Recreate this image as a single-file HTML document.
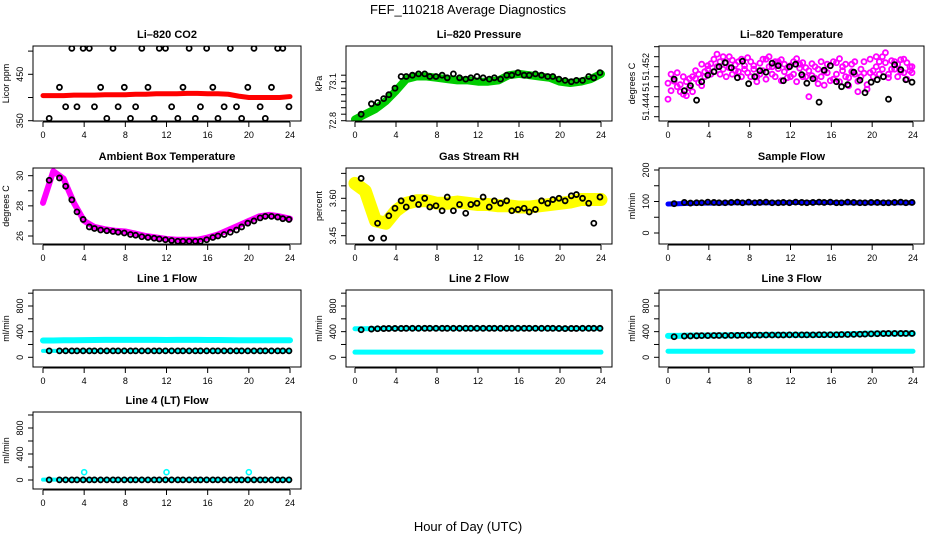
<!DOCTYPE html>
<html><head><meta charset="utf-8"><title>FEF_110218 Average Diagnostics</title>
<style>
html,body{margin:0;padding:0;background:#fff;}
svg{display:block;font-family:"Liberation Sans",sans-serif;}
</style></head>
<body>
<svg id="chart" width="936" height="540" viewBox="0 0 936 540" xmlns="http://www.w3.org/2000/svg">
<text x="468" y="14" text-anchor="middle" font-size="13">FEF_110218  Average Diagnostics</text>
<text x="468" y="531" text-anchor="middle" font-size="13">Hour of Day (UTC)</text>
</svg>
<script>
// ---- data ----
const hourTicks = [0,4,8,12,16,20,24];
const bandHours = [0,1,2,3,4,5,6,7,8,9,10,11,12,13,14,15,16,17,18,19,20,21,22,23,24];
const ptHours = [0.6,1.6,2.2,2.8,3.3,3.9,4.5,5.0,5.6,6.2,6.8,7.3,7.9,8.5,9.0,9.6,10.2,10.8,11.3,11.9,12.5,13.1,13.6,14.2,14.8,15.3,15.9,16.5,17.0,17.6,18.2,18.8,19.3,19.9,20.5,21.1,21.6,22.2,22.8,23.3,23.9];
// CO2
const co2Band = [404,404,404,405,405,405,406,406,406,407,407,408,408,408,409,409,408,408,407,403,400,400,400,400,402];
const co2Pts = [355,422,380,506,380,506,506,380,422,355,506,380,422,355,380,506,422,355,506,506,380,355,422,506,355,380,506,422,355,380,506,380,355,422,506,380,355,422,506,506,380];
// Pressure
const presBand = [72.81,72.85,72.89,72.95,73.03,73.12,73.14,73.14,73.13,73.12,73.11,73.11,73.10,73.10,73.11,73.15,73.16,73.15,73.14,73.13,73.10,73.09,73.10,73.12,73.16];
const presPts = [72.85,72.93,72.94,72.97,73.0,73.05,73.14,73.14,73.15,73.16,73.16,73.14,73.14,73.15,73.13,73.16,73.13,73.12,73.13,73.14,73.13,73.12,73.13,73.12,73.15,73.15,73.17,73.15,73.15,73.16,73.15,73.14,73.14,73.12,73.11,73.10,73.11,73.11,73.14,73.13,73.17];
// Li-820 temperature
const tempHours = [0.0,0.3,0.6,0.9,1.2,1.5,1.8,2.1,2.4,2.7,3.0,3.3,3.6,3.9,4.2,4.5,4.8,5.1,5.4,5.7,6.0,6.3,6.6,6.9,7.2,7.5,7.8,8.1,8.4,8.7,9.0,9.3,9.6,9.9,10.2,10.5,10.8,11.1,11.4,11.7,12.0,12.3,12.6,12.9,13.2,13.5,13.8,14.1,14.4,14.7,15.0,15.3,15.6,15.9,16.2,16.5,16.8,17.1,17.4,17.7,18.0,18.3,18.6,18.9,19.2,19.5,19.8,20.1,20.4,20.7,21.0,21.3,21.6,21.9,22.2,22.5,22.8,23.1,23.4,23.7,23.9];
const tempA = [51.4487,51.4472,51.4491,51.4480,51.4484,51.4465,51.4490,51.4478,51.4500,51.4496,51.4505,51.4482,51.4510,51.4515,51.4526,51.4535,51.4520,51.4530,51.4540,51.4528,51.4518,51.4533,51.4524,51.4510,51.4535,51.4522,51.4508,51.4530,51.4515,51.4500,51.4527,51.4512,51.4535,51.4520,51.4505,51.4530,51.4516,51.4534,51.4510,51.4498,51.4522,51.4505,51.4536,51.4517,51.4528,51.4500,51.4512,51.4526,51.4497,51.4515,51.4530,51.4483,51.4508,51.4522,51.4495,51.4528,51.4536,51.4512,51.4525,51.4498,51.4510,51.4530,51.4491,51.4515,51.4507,51.4484,51.4535,51.4512,51.4520,51.4530,51.4540,51.4528,51.4505,51.4532,51.4515,51.4525,51.4534,51.4508,51.4528,51.4512,51.4520];
const tempB = [51.4455,51.4505,51.4495,51.4508,51.4470,51.4500,51.4462,51.4496,51.4470,51.4512,51.4488,51.4525,51.4500,51.4522,51.4505,51.4510,51.4545,51.4505,51.4515,51.4500,51.4540,51.4505,51.4512,51.4530,51.4500,51.4515,51.4538,51.4500,51.4522,51.4490,51.4505,51.4535,51.4495,51.4540,51.4520,51.4500,51.4530,51.4492,51.4525,51.4518,51.4500,51.4530,51.4490,51.4525,51.4500,51.4518,51.4460,51.4502,51.4520,51.4486,51.4500,51.4510,51.4525,51.4492,51.4530,51.4505,51.4490,51.4520,51.4500,51.4482,51.4525,51.4505,51.4470,51.4500,51.4530,51.4475,51.4508,51.4500,51.4540,51.4505,51.4515,51.4548,51.4498,51.4515,51.4530,51.4500,51.4510,51.4535,51.4495,51.4520,51.4508];
const tempPts = [51.4495,51.4472,51.4482,51.4453,51.4490,51.4503,51.4510,51.4520,51.4528,51.4518,51.4498,51.4531,51.4486,51.4500,51.4512,51.4509,51.4527,51.4522,51.4492,51.4520,51.4525,51.4504,51.4487,51.4496,51.4449,51.4513,51.4522,51.4490,51.4480,51.4484,51.4509,51.4493,51.4468,51.4489,51.4494,51.4500,51.4455,51.4524,51.4514,51.4494,51.4489];
// Ambient box temperature
const ambBand = [28.2,30.3,29.8,28.2,27.0,26.6,26.45,26.35,26.3,26.15,26.0,25.9,25.8,25.75,25.75,25.75,25.9,26.1,26.4,26.7,27.0,27.3,27.4,27.3,27.15];
const ambPts = [29.7,29.85,29.3,28.4,27.6,27.1,26.6,26.5,26.4,26.35,26.3,26.25,26.2,26.1,26.05,25.95,25.9,25.85,25.8,25.75,25.7,25.65,25.65,25.65,25.65,25.65,25.75,25.9,26.0,26.1,26.25,26.4,26.6,26.85,27.0,27.2,27.3,27.3,27.25,27.15,27.1];
// Gas stream RH
const rhBand = [3.66,3.63,3.51,3.50,3.55,3.58,3.59,3.59,3.58,3.58,3.585,3.58,3.575,3.575,3.57,3.57,3.565,3.565,3.57,3.575,3.58,3.585,3.595,3.595,3.595];
const rhPts = [3.68,3.44,3.50,3.44,3.53,3.56,3.59,3.565,3.60,3.575,3.60,3.565,3.57,3.55,3.605,3.55,3.575,3.54,3.575,3.58,3.605,3.565,3.59,3.58,3.59,3.55,3.555,3.56,3.545,3.555,3.59,3.58,3.595,3.60,3.59,3.61,3.615,3.60,3.58,3.50,3.605];
// Sample flow
const sampBand = [92,93,94,95,95,95,96,96,96,96,96,96,97,97,97,97,97,96,96,96,96,96,96,96,96];
const sampPts = [93,97,95,96,96,98,97,96,96,97,98,96,98,96,97,98,96,96,97,96,98,97,96,97,98,97,98,96,96,98,97,96,96,97,97,96,96,97,98,96,97];
// Line flows
const l1Band = [262,262,265,265,268,270,272,272,272,272,272,272,270,272,272,272,270,270,268,266,265,265,265,265,265];
const l1Pts = [100,100,100,100,100,100,100,100,100,100,100,100,100,100,100,100,100,100,100,100,100,100,100,100,100,100,100,100,100,100,100,100,100,100,100,100,100,100,100,100,100];
const l1Low = [100,100,100,100,100,100,100,100,100,100,100,100,100,100,100,100,100,100,100,100,100,100,100,100,100];
const l2Band = [445,445,448,450,450,452,452,452,452,452,452,452,452,452,452,452,452,452,452,452,450,450,452,452,452];
const l2Pts = [430,440,445,448,450,450,450,452,452,452,452,452,452,452,452,452,452,452,452,452,452,452,452,452,452,452,452,452,452,452,452,452,452,450,448,450,450,452,452,452,452];
const l2Low = [80,80,80,80,80,80,80,80,80,80,80,80,80,80,80,80,80,80,80,80,80,80,80,80,80];
const l3Band = [335,335,338,340,340,342,342,345,345,348,350,350,350,350,350,350,352,355,360,365,370,372,372,372,372];
const l3Pts = [320,330,332,335,338,338,340,340,340,342,342,344,345,346,346,348,348,348,348,350,350,350,350,350,352,352,352,352,355,356,358,360,362,365,368,370,372,372,372,372,372];
const l3Low = [95,95,95,95,95,95,95,95,95,95,95,95,95,95,95,95,95,95,95,95,95,95,95,95,95];
const l4Band = [5,5,5,5,5,5,5,5,5,5,5,5,5,5,5,5,5,5,5,5,5,5,5,5,5];
const l4Pts = [2,2,2,2,2,2,2,2,2,2,2,2,2,2,2,2,2,2,2,2,2,2,2,2,2,2,2,2,2,2,2,2,2,2,2,2,2,2,2,2,2];
const l4SpikeHours = [4,12,20];
const l4Spikes = [120,120,120];

// ---- drawing ----
const NS = "http://www.w3.org/2000/svg";
const svg = document.getElementById('chart');
function mk(tag, attrs, parent){ const e=document.createElementNS(NS,tag); for(const k in attrs) e.setAttribute(k,attrs[k]); (parent||svg).appendChild(e); return e; }

const cols = [{l:33,r:301,x0:43,x24:290},{l:346,r:612,x0:355,x24:601},{l:659,r:924,x0:668,x24:913}];
const rows = [{t:46,b:121},{t:168,b:244},{t:290,b:367},{t:412,b:489}];

function panel(cfg){
  const c=cols[cfg.col], rw=rows[cfg.row];
  const g=mk('g',{});
  
  
  const xs=h=>c.x0+(c.x24-c.x0)*h/24;
  const ys=v=>cfg.py1+(v-cfg.v1)*(cfg.py2-cfg.py1)/(cfg.v2-cfg.v1);
  const clip='clip'+cfg.name;
  const cp=mk('clipPath',{id:clip},g); mk('rect',{x:c.l,y:rw.t,width:c.r-c.l,height:rw.b-rw.t},cp);
  const data=mk('g',{'clip-path':'url(#'+clip+')'},g);
  
  
  const band=(hrs,vals,color,w)=>{
    const p=mk('polyline',{points:hrs.map((h,i)=>xs(h)+','+ys(vals[i])).join(' '),fill:'none',stroke:color,'stroke-width':w,'stroke-linejoin':'round','stroke-linecap':'round'},data);
    
    
  };
  const pts=(hrs,vals,color,r,sw)=>{
    hrs.forEach((h,i)=>{
      const e=mk('circle',{cx:xs(h),cy:ys(vals[i]),r:r,fill:'none',stroke:color,'stroke-width':sw},data);
      
      
    });
  };
  cfg.draw(band,pts);
  const box=mk('rect',{x:c.l,y:rw.t,width:c.r-c.l,height:rw.b-rw.t,fill:'none',stroke:'#000','stroke-width':1},g);
  
  
  const tt=mk('text',{x:(c.l+c.r)/2,y:rw.t-8,'text-anchor':'middle','font-size':11,'font-weight':'bold'},g);
  tt.textContent=cfg.title;
  
  
  const xa=mk('g',{},g);
  
  
  const ay=rw.b+1;
  mk('line',{x1:xs(0),x2:xs(24),y1:ay,y2:ay,stroke:'#000'},xa);
  hourTicks.forEach(h=>{
    mk('line',{x1:xs(h),x2:xs(h),y1:ay,y2:ay+5,stroke:'#000'},xa);
    const t=mk('text',{x:xs(h),y:ay+16,'text-anchor':'middle','font-size':9},xa);
    t.textContent=h;
    
    
  });
  const ya=mk('g',{},g);
  
  
  const ax=c.l;
  mk('line',{x1:ax,x2:ax,y1:ys(cfg.yTicks[0]),y2:ys(cfg.yTicks[cfg.yTicks.length-1]),stroke:'#000'},ya);
  cfg.yTicks.forEach((v,i)=>{
    mk('line',{x1:ax-5,x2:ax,y1:ys(v),y2:ys(v),stroke:'#000'},ya);
    const lab=cfg.yLabels[i];
    if(lab!==''){
      const y=ys(v);
      const t=mk('text',{x:ax-10,y:y,'text-anchor':'middle','font-size':9,transform:'rotate(-90 '+(ax-10)+' '+y+')'},ya);
      t.textContent=lab;
      
      
    }
  });
  const yc=(rw.t+rw.b)/2, yx=ax-24;
  const yt=mk('text',{x:yx,y:yc,'text-anchor':'middle','font-size':9,transform:'rotate(-90 '+yx+' '+yc+')'},g);
  yt.textContent=cfg.ylab;
  
  
}

const K='#000', PR=2.5, PW=1.8;
panel({name:'co2-panel',title:'Li\u2013820 CO2',col:0,row:0,ylab:'Licor ppm',v1:350,py1:120.7,v2:450,py2:74.3,
  yTicks:[350,400,450,500],yLabels:['350','','450',''],
  draw:(band,pts)=>{band(bandHours,co2Band,'#ff0000',5);pts(ptHours,co2Pts,K,PR,PW);}});
panel({name:'pressure-panel',title:'Li\u2013820 Pressure',col:1,row:0,ylab:'kPa',v1:72.8,py1:120.7,v2:73.1,py2:81.7,
  yTicks:[72.8,72.85,72.9,72.95,73.0,73.05,73.1,73.15],yLabels:['72.8','','','','','','73.1',''],
  draw:(band,pts)=>{band(bandHours,presBand,'#00cc00',8);pts(ptHours,presPts,K,PR,PW);}});
panel({name:'li820-temperature-panel',title:'Li\u2013820 Temperature',col:2,row:0,ylab:'degrees C',v1:51.442,py1:116.7,v2:51.452,py2:66.7,
  yTicks:[51.442,51.444,51.446,51.448,51.450,51.452,51.454,51.456],yLabels:['','51.444','','51','','51.452','',''],
  draw:(band,pts)=>{pts(tempHours,tempA,'#ff00ff',2.5,1.8);pts(tempHours,tempB,'#ff00ff',2.5,1.8);pts(ptHours,tempPts,K,PR,PW);}});
panel({name:'ambient-temperature-panel',title:'Ambient Box Temperature',col:0,row:1,ylab:'degrees C',v1:26,py1:236,v2:30,py2:175.7,
  yTicks:[26,27,28,29,30],yLabels:['26','','28','','30'],
  draw:(band,pts)=>{band(bandHours,ambBand,'#ff00ff',6);pts(ptHours,ambPts,K,PR,PW);}});
panel({name:'rh-panel',title:'Gas Stream RH',col:1,row:1,ylab:'percent',v1:3.45,py1:235.7,v2:3.60,py2:198.3,
  yTicks:[3.45,3.50,3.55,3.60,3.65,3.70],yLabels:['3.45','','','3.60','',''],
  draw:(band,pts)=>{band(bandHours,rhBand,'#ffff00',13);pts(ptHours,rhPts,K,PR,PW);}});
panel({name:'sample-flow-panel',title:'Sample Flow',col:2,row:1,ylab:'ml/min',v1:0,py1:233,v2:200,py2:170,
  yTicks:[0,50,100,150,200],yLabels:['0','','100','','200'],
  draw:(band,pts)=>{band(bandHours,sampBand,'#0000ff',5);pts(ptHours,sampPts,K,PR,PW);}});
const flowTicks=[0,200,400,600,800,1000], flowLabels=['0','','400','','800',''];
panel({name:'line1-flow-panel',title:'Line 1 Flow',col:0,row:2,ylab:'ml/min',v1:0,py1:357.3,v2:800,py2:306,
  yTicks:flowTicks,yLabels:flowLabels,
  draw:(band,pts)=>{band(bandHours,l1Band,'#00ffff',6);band(bandHours,l1Low,'#00ffff',4);pts(ptHours,l1Pts,K,PR,PW);}});
panel({name:'line2-flow-panel',title:'Line 2 Flow',col:1,row:2,ylab:'ml/min',v1:0,py1:357.3,v2:800,py2:306,
  yTicks:flowTicks,yLabels:flowLabels,
  draw:(band,pts)=>{band(bandHours,l2Band,'#00ffff',5);band(bandHours,l2Low,'#00ffff',5);pts(ptHours,l2Pts,K,PR,PW);}});
panel({name:'line3-flow-panel',title:'Line 3 Flow',col:2,row:2,ylab:'ml/min',v1:0,py1:357.3,v2:800,py2:306,
  yTicks:flowTicks,yLabels:flowLabels,
  draw:(band,pts)=>{band(bandHours,l3Band,'#00ffff',6);band(bandHours,l3Low,'#00ffff',5);pts(ptHours,l3Pts,K,PR,PW);}});
panel({name:'line4-flow-panel',title:'Line 4 (LT) Flow',col:0,row:3,ylab:'ml/min',v1:0,py1:480,v2:800,py2:428,
  yTicks:flowTicks,yLabels:flowLabels,
  draw:(band,pts)=>{band(bandHours,l4Band,'#00ffff',4);pts(l4SpikeHours,l4Spikes,'#00ffff',2.5,1.6);pts(ptHours,l4Pts,K,PR,PW);}});
</script>
</body></html>
